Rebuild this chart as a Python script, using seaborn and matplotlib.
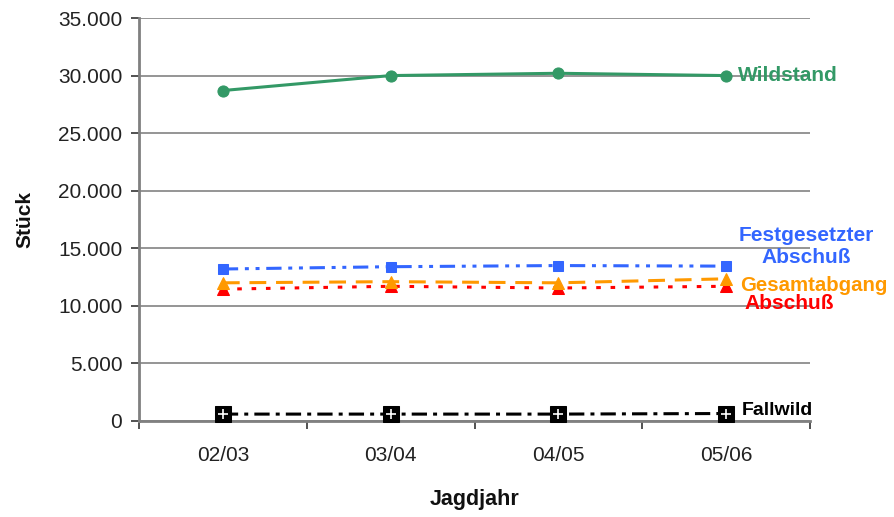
import matplotlib
matplotlib.use("Agg")
import matplotlib.pyplot as plt
import seaborn as sns
import pandas as pd
from matplotlib.ticker import FuncFormatter, FixedLocator

# ---- data ----
jahre = ["02/03", "03/04", "04/05", "05/06"]
wildstand = [28700, 30000, 30200, 30000]
festgesetzt = [13200, 13400, 13500, 13450]
gesamtabgang = [12000, 12100, 12000, 12350]
abschuss = [11450, 11700, 11550, 11700]
fallwild = [600, 600, 600, 650]

sns.set_theme(style="white")
plt.rcParams['font.family'] = ['Liberation Sans', 'DejaVu Sans']

fig = plt.figure(figsize=(8.94, 5.17), dpi=100)
ax = fig.add_axes([139/894, 96/517, 671/894, 403/517])

xpos = list(range(len(jahre)))

series = [
    # values, color, marker, markersize, dashes (in lw units), lw
    (fallwild, "#000000", "s", 11, (5, 2, 1.3, 2), 2.2),
    (abschuss, "#FF0000", "^", 8, (1.5, 3.2), 2.2),
    (gesamtabgang, "#FF9900", "^", 9, (5.5, 3.2), 2.2),
    (festgesetzt, "#3366FF", "s", 7.5, (5, 2.2, 1.3, 2.2, 1.3, 2.2), 2.2),
    (wildstand, "#339966", "o", 8, None, 2.2),
]

for vals, col, mk, ms, dash, lw in series:
    df = pd.DataFrame({"x": xpos, "y": vals})
    sns.lineplot(data=df, x="x", y="y", color=col, marker=mk, markersize=ms,
                 markeredgecolor=col, linewidth=lw, ax=ax, legend=False,
                 clip_on=False, zorder=3)
    line = ax.lines[-1]
    if dash is not None:
        line.set_dashes(dash)

# white plus inside Fallwild squares
sns.scatterplot(x=xpos, y=fallwild, marker="+", color="white", s=60,
                linewidth=1.2, ax=ax, legend=False, zorder=5, clip_on=False)

ax.set_xlim(-0.5, 3.5)
ax.set_ylim(0, 35000)

# y axis
ax.set_yticks(range(0, 35001, 5000))
ax.yaxis.set_major_formatter(FuncFormatter(lambda v, p: f"{int(v):,}".replace(",", ".")))
ax.grid(axis="y", color="#8c8c8c", linewidth=1.3)
ax.set_axisbelow(True)

# x axis: boundary ticks + centered labels
ax.xaxis.set_major_locator(FixedLocator([-0.5, 0.5, 1.5, 2.5, 3.5]))
ax.xaxis.set_major_formatter(FuncFormatter(lambda v, p: ""))
ax.xaxis.set_minor_locator(FixedLocator(xpos))
ax.set_xticks(xpos, labels=jahre, minor=True)
ax.tick_params(axis="x", which="minor", length=0, labelsize=15, pad=18, colors="#222222")
ax.tick_params(axis="x", which="major", length=6, width=1.2, color="#333333", direction="out", bottom=True)
ax.tick_params(axis="y", length=6, width=1.2, color="#333333", direction="out", left=True,
               labelsize=15, labelcolor="#222222", pad=6)

for s in ["top", "right"]:
    ax.spines[s].set_visible(False)
for s in ["left", "bottom"]:
    ax.spines[s].set_color("#808080")
    ax.spines[s].set_linewidth(2)

ax.set_xlabel("Jagdjahr", fontsize=15.5, fontweight="bold", labelpad=17, color="#111111")
ax.set_ylabel("Stück", fontsize=15, fontweight="bold", labelpad=17, color="#111111")

# series labels
ax.text(3.071, 30000, "Wildstand", color="#339966", fontsize=15, fontweight="bold",
        ha="left", va="center", clip_on=False)
ax.text(3.476, 15150, "Festgesetzter\nAbschuß", color="#3366FF", fontsize=15, fontweight="bold",
        ha="center", va="center", linespacing=1.15, clip_on=False)
ax.text(3.085, 11800, "Gesamtabgang", color="#FF9900", fontsize=14.7, fontweight="bold",
        ha="left", va="center", clip_on=False)
ax.text(3.11, 10200, "Abschuß", color="#FF0000", fontsize=15, fontweight="bold",
        ha="left", va="center", clip_on=False)
ax.text(3.094, 950, "Fallwild", color="#000000", fontsize=14, fontweight="bold",
        ha="left", va="center", clip_on=False)

fig.savefig("out.png", dpi=100)
